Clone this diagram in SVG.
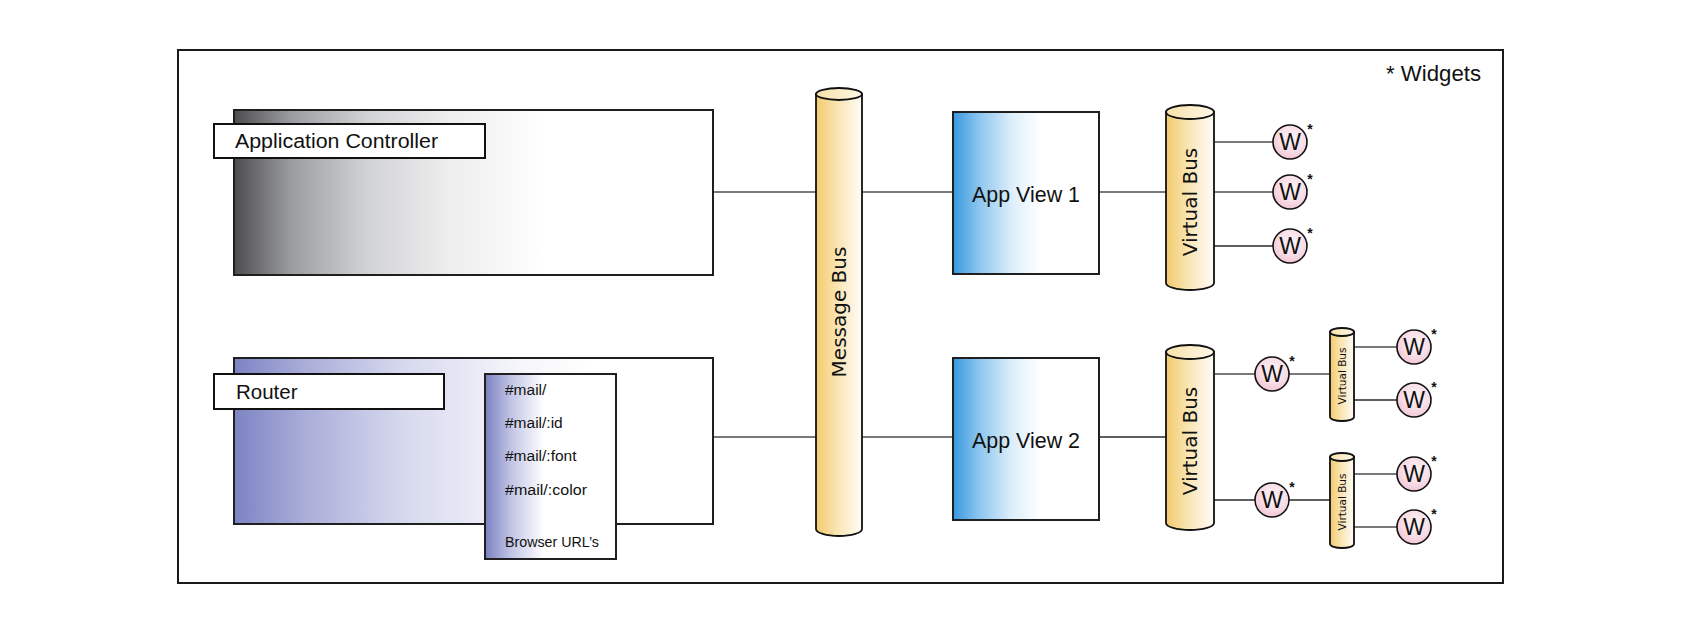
<svg xmlns="http://www.w3.org/2000/svg" width="1684" height="634" viewBox="0 0 1684 634">
<defs>
  <linearGradient id="gGray" x1="0" y1="0" x2="1" y2="0">
    <stop offset="0" stop-color="#4d4d4f"/>
    <stop offset="0.12" stop-color="#9c9da1"/>
    <stop offset="0.28" stop-color="#d2d3d5"/>
    <stop offset="0.45" stop-color="#eeeeef"/>
    <stop offset="0.65" stop-color="#ffffff"/>
  </linearGradient>
  <linearGradient id="gPurple" x1="0" y1="0" x2="1" y2="0">
    <stop offset="0" stop-color="#7d83c3"/>
    <stop offset="0.15" stop-color="#aaaed8"/>
    <stop offset="0.35" stop-color="#d6d8ee"/>
    <stop offset="0.6" stop-color="#f6f6fb"/>
    <stop offset="0.75" stop-color="#ffffff"/>
  </linearGradient>
  <linearGradient id="gPurple2" x1="0" y1="0" x2="1" y2="0">
    <stop offset="0" stop-color="#7a80c2"/>
    <stop offset="0.2" stop-color="#c2c5e5"/>
    <stop offset="0.45" stop-color="#ffffff"/>
  </linearGradient>
  <linearGradient id="gBlue" x1="0" y1="0" x2="1" y2="0">
    <stop offset="0" stop-color="#3898de"/>
    <stop offset="0.18" stop-color="#8cc6ee"/>
    <stop offset="0.4" stop-color="#dceefa"/>
    <stop offset="0.6" stop-color="#ffffff"/>
  </linearGradient>
  <linearGradient id="gBus" x1="0" y1="0" x2="1" y2="0">
    <stop offset="0" stop-color="#f2cb6c"/>
    <stop offset="0.45" stop-color="#f9e4b2"/>
    <stop offset="1" stop-color="#fffdf8"/>
  </linearGradient>
  <linearGradient id="gBusTop" x1="0" y1="0" x2="1" y2="0">
    <stop offset="0" stop-color="#f8e2a8"/>
    <stop offset="1" stop-color="#fff8e8"/>
  </linearGradient>
  <radialGradient id="gW" cx="0.55" cy="0.4" r="0.6">
    <stop offset="0" stop-color="#fdf3f6"/>
    <stop offset="0.6" stop-color="#f8dfe8"/>
    <stop offset="1" stop-color="#f1c6d6"/>
  </radialGradient>
</defs>
<style>
  .frame { fill: #ffffff; stroke: #1a1a1a; stroke-width: 2; }
  .box { stroke: #1f1f1f; stroke-width: 2; }
  .label { fill: #ffffff; stroke: #111111; stroke-width: 2; }
  .txt { font-family: "Liberation Sans", Arial, sans-serif; fill: #111111; }
  .bus { font-family: "DejaVu Sans", Verdana, sans-serif; fill: #111111; }
  .cyl { fill: url(#gBus); stroke: #111111; stroke-width: 1.8; }
  .cyltop { fill: url(#gBusTop); stroke: #111111; stroke-width: 1.8; }
  .wc { fill: url(#gW); stroke: #111111; stroke-width: 1.6; }
  .wt { font-family: "Liberation Sans", Arial, sans-serif; font-size: 23px; fill: #111111; text-anchor: middle; }
  .ast { font-family: "Liberation Sans", Arial, sans-serif; font-size: 14px; font-weight: bold; fill: #111111; text-anchor: middle; }
  .ln { stroke: #7a7a7a; stroke-width: 2; fill: none; }
  .lnd { stroke: #2a2a2a; stroke-width: 1.6; fill: none; }
</style>

<rect class="frame" x="178" y="50" width="1325" height="533"/>
<text class="txt" x="1386" y="81" font-size="22" textLength="95" lengthAdjust="spacingAndGlyphs">* Widgets</text>

<g id="connectors">
  <line class="ln" x1="713" y1="192" x2="817" y2="192"/>
  <line class="ln" x1="713" y1="437" x2="817" y2="437"/>
  <line class="ln" x1="862" y1="192" x2="953" y2="192"/>
  <line class="ln" x1="862" y1="437" x2="953" y2="437"/>
  <line class="ln" x1="1099" y1="192" x2="1166" y2="192"/>
  <line class="lnd" x1="1099" y1="437" x2="1166" y2="437"/>
  <line class="ln" x1="1214" y1="142" x2="1273" y2="142"/>
  <line class="ln" x1="1214" y1="192" x2="1273" y2="192"/>
  <line class="lnd" x1="1214" y1="246" x2="1273" y2="246"/>
  <line class="ln" x1="1214" y1="374" x2="1255" y2="374"/>
  <line class="lnd" x1="1214" y1="500" x2="1255" y2="500"/>
  <line class="ln" x1="1289" y1="374" x2="1330" y2="374"/>
  <line class="lnd" x1="1289" y1="500" x2="1330" y2="500"/>
  <line class="ln" x1="1354" y1="347" x2="1397" y2="347"/>
  <line class="lnd" x1="1354" y1="400" x2="1397" y2="400"/>
  <line class="ln" x1="1354" y1="474" x2="1397" y2="474"/>
  <line class="ln" x1="1354" y1="527" x2="1397" y2="527"/>
</g>

<g id="app-controller">
  <rect class="box" x="234" y="110" width="479" height="165" fill="url(#gGray)"/>
  <rect class="label" x="214" y="124" width="271" height="34"/>
  <text class="txt" x="235" y="148" font-size="20.5" textLength="203" lengthAdjust="spacingAndGlyphs">Application Controller</text>
</g>

<g id="router">
  <rect class="box" x="234" y="358" width="479" height="166" fill="url(#gPurple)"/>
  <rect class="label" x="214" y="374" width="230" height="35"/>
  <text class="txt" x="236" y="399" font-size="20.5">Router</text>
  <g id="browser-urls">
    <rect class="box" x="485" y="374" width="131" height="185" fill="url(#gPurple2)"/>
    <text class="txt" x="505" y="395" font-size="15.5">#mail/</text>
    <text class="txt" x="505" y="428" font-size="15.5">#mail/:id</text>
    <text class="txt" x="505" y="461" font-size="15.5">#mail/:font</text>
    <text class="txt" x="505" y="495" font-size="15.5" textLength="82" lengthAdjust="spacingAndGlyphs">#mail/:color</text>
    <text class="txt" x="505" y="547" font-size="15.5" textLength="94" lengthAdjust="spacingAndGlyphs">Browser URL’s</text>
  </g>
</g>

<g id="message-bus">
  <path class="cyl" d="M816 94 V529 A23 7 0 0 0 862 529 V94 Z"/>
  <ellipse class="cyltop" cx="839" cy="94" rx="23" ry="6"/>
  <text class="bus" font-size="20" text-anchor="middle" transform="translate(846 312) rotate(-90)">Message Bus</text>
</g>

<g id="app-view-1">
  <rect class="box" x="953" y="112" width="146" height="162" fill="url(#gBlue)"/>
  <text class="txt" x="1026" y="202" font-size="21.5" text-anchor="middle" textLength="108" lengthAdjust="spacingAndGlyphs">App View 1</text>
</g>

<g id="app-view-2">
  <rect class="box" x="953" y="358" width="146" height="162" fill="url(#gBlue)"/>
  <text class="txt" x="1026" y="448" font-size="21.5" text-anchor="middle" textLength="108" lengthAdjust="spacingAndGlyphs">App View 2</text>
</g>

<g id="virtual-bus-1">
  <path class="cyl" d="M1166 112 V283 A24 7 0 0 0 1214 283 V112 Z"/>
  <ellipse class="cyltop" cx="1190" cy="112" rx="24" ry="7"/>
  <text class="bus" font-size="20" text-anchor="middle" transform="translate(1197 202) rotate(-90)">Virtual Bus</text>
</g>

<g id="virtual-bus-2">
  <path class="cyl" d="M1166 352 V523 A24 7 0 0 0 1214 523 V352 Z"/>
  <ellipse class="cyltop" cx="1190" cy="352" rx="24" ry="7"/>
  <text class="bus" font-size="20" text-anchor="middle" transform="translate(1197 441) rotate(-90)">Virtual Bus</text>
</g>

<g id="virtual-bus-3">
  <path class="cyl" d="M1330 332 V417 A12 4 0 0 0 1354 417 V332 Z"/>
  <ellipse class="cyltop" cx="1342" cy="332" rx="12" ry="4"/>
  <text class="bus" font-size="10.5" text-anchor="middle" transform="translate(1346 376) rotate(-90)">Virtual Bus</text>
</g>

<g id="virtual-bus-4">
  <path class="cyl" d="M1330 457 V544 A12 4 0 0 0 1354 544 V457 Z"/>
  <ellipse class="cyltop" cx="1342" cy="457" rx="12" ry="4"/>
  <text class="bus" font-size="10.5" text-anchor="middle" transform="translate(1346 502) rotate(-90)">Virtual Bus</text>
</g>

<g id="widget-1"><circle class="wc" cx="1290" cy="142" r="17"/><text class="wt" x="1290" y="150">W</text><text class="ast" x="1310" y="134">*</text></g>
<g id="widget-2"><circle class="wc" cx="1290" cy="192" r="17"/><text class="wt" x="1290" y="200">W</text><text class="ast" x="1310" y="184">*</text></g>
<g id="widget-3"><circle class="wc" cx="1290" cy="246" r="17"/><text class="wt" x="1290" y="254">W</text><text class="ast" x="1310" y="238">*</text></g>
<g id="widget-4"><circle class="wc" cx="1272" cy="374" r="17"/><text class="wt" x="1272" y="382">W</text><text class="ast" x="1292" y="366">*</text></g>
<g id="widget-5"><circle class="wc" cx="1272" cy="500" r="17"/><text class="wt" x="1272" y="508">W</text><text class="ast" x="1292" y="492">*</text></g>
<g id="widget-6"><circle class="wc" cx="1414" cy="347" r="17"/><text class="wt" x="1414" y="355">W</text><text class="ast" x="1434" y="339">*</text></g>
<g id="widget-7"><circle class="wc" cx="1414" cy="400" r="17"/><text class="wt" x="1414" y="408">W</text><text class="ast" x="1434" y="392">*</text></g>
<g id="widget-8"><circle class="wc" cx="1414" cy="474" r="17"/><text class="wt" x="1414" y="482">W</text><text class="ast" x="1434" y="466">*</text></g>
<g id="widget-9"><circle class="wc" cx="1414" cy="527" r="17"/><text class="wt" x="1414" y="535">W</text><text class="ast" x="1434" y="519">*</text></g>
</svg>
